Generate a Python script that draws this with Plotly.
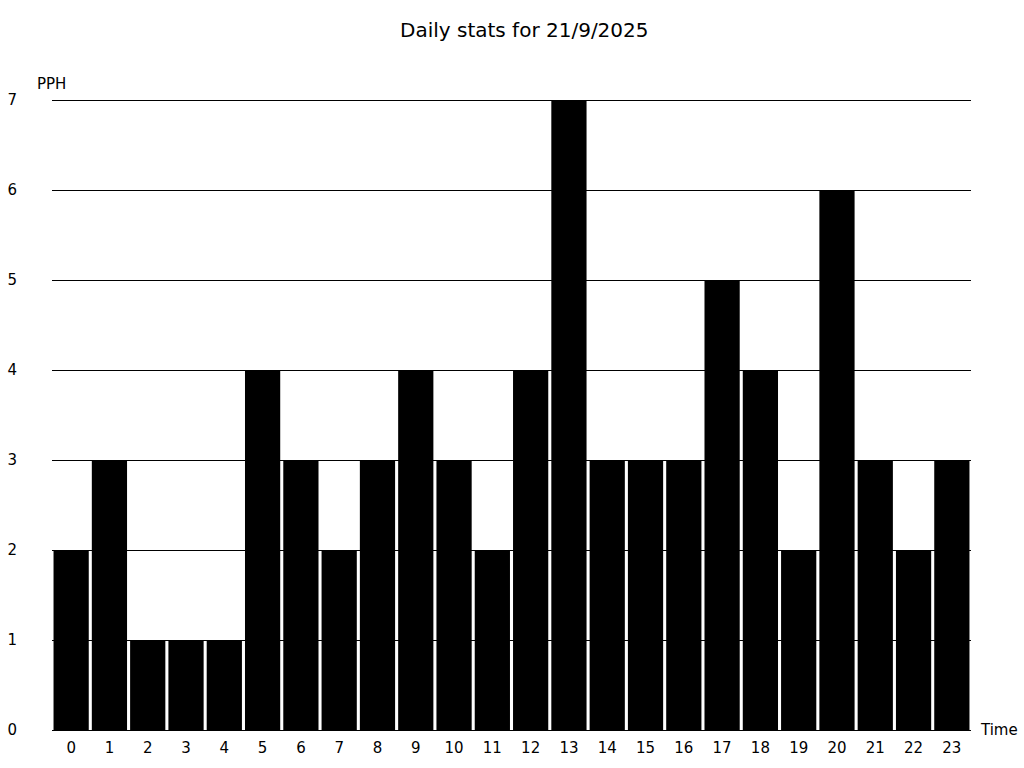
import plotly.graph_objects as go

hours = list(range(24))
pph = [2, 3, 1, 1, 1, 4, 3, 2, 3, 4, 3, 2, 4, 7, 3, 3, 3, 5, 4, 2, 6, 3, 2, 3]
title = "Daily stats for 21/9/2025"

FONT = "DejaVu Sans"

fig = go.Figure()
fig.add_trace(go.Bar(x=hours, y=pph, marker=dict(color="black", line=dict(width=0))))

fig.update_layout(
    width=1024, height=768,
    margin=dict(l=52, r=53, t=97, b=38, autoexpand=False),
    paper_bgcolor="white", plot_bgcolor="white",
    font=dict(family=FONT, size=15, color="black"),
    title=dict(text=title, x=0.512, xanchor="center", y=0.961, yanchor="middle",
               font=dict(size=20, family=FONT, color="black")),
    bargap=0.08,
    showlegend=False,
)
fig.update_xaxes(
    type="category", tickmode="array", tickvals=hours,
    ticktext=[str(h) for h in hours],
    showgrid=False, showline=True, linecolor="black", linewidth=1,
    ticks="", ticklabelstandoff=4, automargin=False,
)
fig.update_yaxes(
    range=[0, 7 * 633 / 630], tickvals=list(range(8)), showgrid=True,
    gridcolor="black", gridwidth=1, zeroline=False, showline=False, ticks="",
    ticklabelstandoff=34, automargin=False,
)
fig.add_annotation(text="PPH", xref="paper", yref="paper", x=-0.0186, y=1.0,
                   xanchor="left", yanchor="middle", yshift=13, showarrow=False,
                   font=dict(size=15, family=FONT))
fig.add_annotation(text="Time", xref="paper", yref="paper", x=1.0, y=0,
                   xanchor="left", yanchor="middle", xshift=7, showarrow=False,
                   font=dict(size=15, family=FONT))

fig.write_html("out.html", config={"displayModeBar": False},
               post_script="document.body.style.margin='0';document.body.style.overflow='hidden';")
